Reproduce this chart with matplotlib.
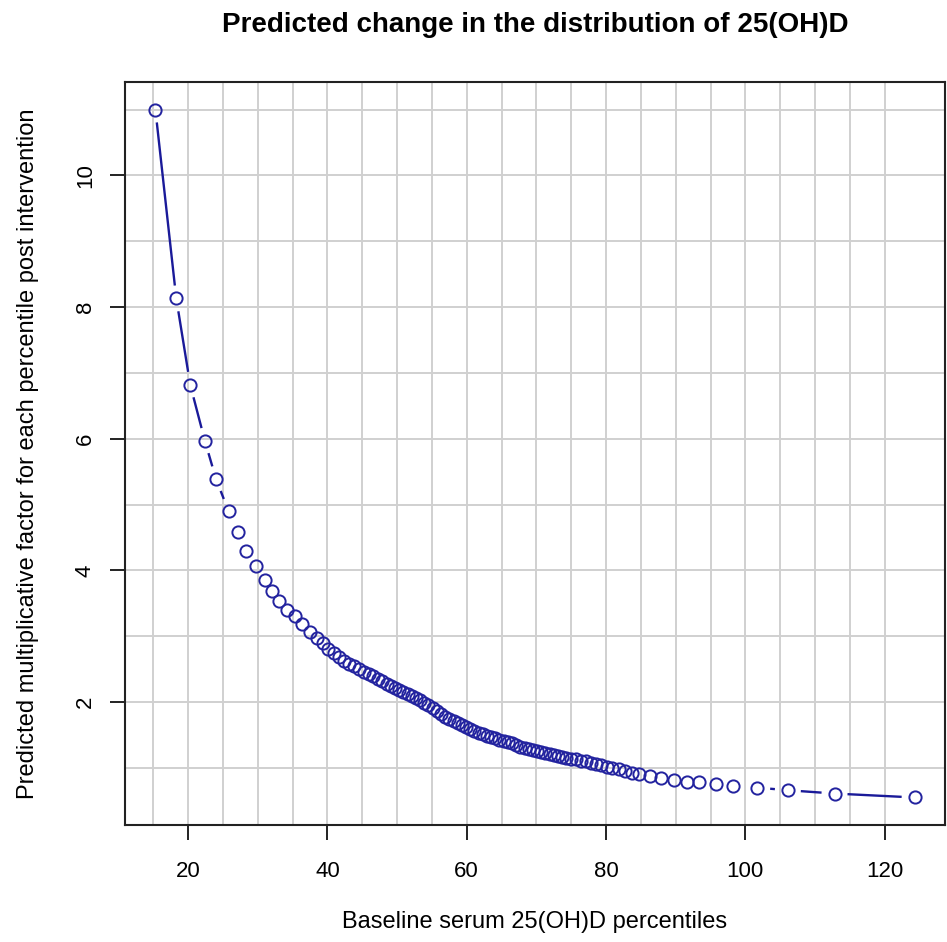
import numpy as np
import matplotlib
matplotlib.use("Agg")
import matplotlib.pyplot as plt
from matplotlib import font_manager

# ---- data ----
baseline = [15.3, 18.3, 20.3, 22.4, 24.0, 25.8, 27.1, 28.3, 29.7, 31.0,
            32.0, 33.0, 34.2, 35.4, 36.4, 37.5, 38.5, 39.3, 40.1, 40.9,
            41.6, 42.4, 43.1, 43.8, 44.5, 45.2, 45.9, 46.5, 47.2, 47.8,
            48.5, 49.1, 49.7, 50.3, 50.9, 51.5, 52.1, 52.7, 53.3, 53.9,
            54.5, 55.1, 55.7, 56.3, 56.9, 57.5, 58.1, 58.7, 59.3, 59.9,
            60.5, 61.1, 61.7, 62.3, 62.9, 63.5, 64.1, 64.7, 65.3, 65.9,
            66.5, 67.1, 67.7, 68.3, 68.9, 69.5, 70.1, 70.7, 71.3, 71.9,
            72.5, 73.1, 73.7, 74.3, 75.0, 75.7, 76.4, 77.1, 77.8, 78.5,
            79.3, 80.1, 80.9, 81.8, 82.7, 83.7, 84.8, 86.3, 87.9, 89.8,
            91.6, 93.4, 95.8, 98.2, 101.7, 106.1, 112.8, 124.3]
factor = [11.00, 8.13, 6.82, 5.97, 5.39, 4.90, 4.58, 4.30, 4.06, 3.85,
          3.69, 3.54, 3.40, 3.31, 3.19, 3.06, 2.97, 2.90, 2.81, 2.74,
          2.68, 2.62, 2.58, 2.54, 2.50, 2.46, 2.42, 2.39, 2.35, 2.32,
          2.28, 2.24, 2.21, 2.18, 2.15, 2.12, 2.09, 2.06, 2.03, 1.99,
          1.95, 1.91, 1.86, 1.82, 1.78, 1.74, 1.71, 1.68, 1.65, 1.62,
          1.59, 1.56, 1.53, 1.51, 1.49, 1.47, 1.45, 1.43, 1.41, 1.39,
          1.37, 1.34, 1.32, 1.30, 1.28, 1.27, 1.25, 1.24, 1.22, 1.21,
          1.19, 1.18, 1.17, 1.15, 1.14, 1.13, 1.11, 1.10, 1.08, 1.06,
          1.04, 1.02, 1.00, 0.98, 0.95, 0.92, 0.90, 0.87, 0.84, 0.81,
          0.79, 0.78, 0.75, 0.73, 0.70, 0.66, 0.61, 0.55]
xticks = [20, 40, 60, 80, 100, 120]
yticks = [2, 4, 6, 8, 10]
xgrid = list(range(15, 121, 5))
ygrid = list(range(1, 12))

title = "Predicted change in the distribution of 25(OH)D"
xlabel = "Baseline serum 25(OH)D percentiles"
ylabel = "Predicted multiplicative factor for each percentile post intervention"

# ---- fonts ----
avail = {f.name for f in font_manager.fontManager.ttflist}
fam = [f for f in ["Liberation Sans", "DejaVu Sans"] if f in avail]
plt.rcParams["font.family"] = fam

W, H = 947, 942
fig = plt.figure(figsize=(W / 100, H / 100), dpi=100)
L, R, T, B = 125, 945, 82, 825
ax = fig.add_axes([L / W, 1 - B / H, (R - L) / W, (B - T) / H])

x = np.array(baseline)
y = np.array(factor)
xr = x.max() - x.min()
yr = y.max() - y.min()
ax.set_xlim(x.min() - 0.04 * xr, x.max() + 0.04 * xr)
ax.set_ylim(y.min() - 0.04 * yr, y.max() + 0.04 * yr)

for gx in xgrid:
    ax.axvline(gx, color="#d0d0d0", lw=1.4, zorder=0)
for gy in ygrid:
    ax.axhline(gy, color="#d0d0d0", lw=1.4, zorder=0)

col = "#23239f"
# R type="b": line segments with gaps around points (computed in pixel space)
pts = ax.transData.transform(np.column_stack([x, y]))
gap = 13.0
inv = ax.transData.inverted()
for i in range(len(pts) - 1):
    p0, p1 = pts[i], pts[i + 1]
    d = np.hypot(*(p1 - p0))
    if d > 2 * gap:
        u = (p1 - p0) / d
        a = inv.transform(p0 + u * gap)
        b = inv.transform(p1 - u * gap)
        ax.plot([a[0], b[0]], [a[1], b[1]], color="#1a1a99", lw=1.7,
                solid_capstyle="butt", zorder=2)
ax.plot(x, y, linestyle="none", marker="o", ms=8.8, mfc="none", mec=col,
        mew=1.4, zorder=3)

ax.set_xticks(xticks)
ax.set_yticks(yticks)
ax.set_xticklabels([str(v) for v in xticks])
ax.set_yticklabels([str(v) for v in yticks], rotation=90, va="center")
ax.tick_params(axis="both", direction="out", length=11, width=1.4,
               labelsize=16, color="#222222")
ax.tick_params(axis="x", pad=15)
ax.tick_params(axis="y", pad=10)
for s in ax.spines.values():
    s.set_linewidth(1.5)
    s.set_color("#222222")

fig.text(0.5 * (L + R) / W, 1 - 25 / H, title, ha="center", va="center",
         fontsize=20, fontweight="bold")
fig.text(0.5 * (L + R) / W, 1 - 922 / H, xlabel, ha="center", va="center",
         fontsize=17)
fig.text(28 / W, 1 - 0.5 * (T + B) / H, ylabel, ha="center", va="center",
         rotation=90, fontsize=17)

fig.savefig("out.png", dpi=100)
